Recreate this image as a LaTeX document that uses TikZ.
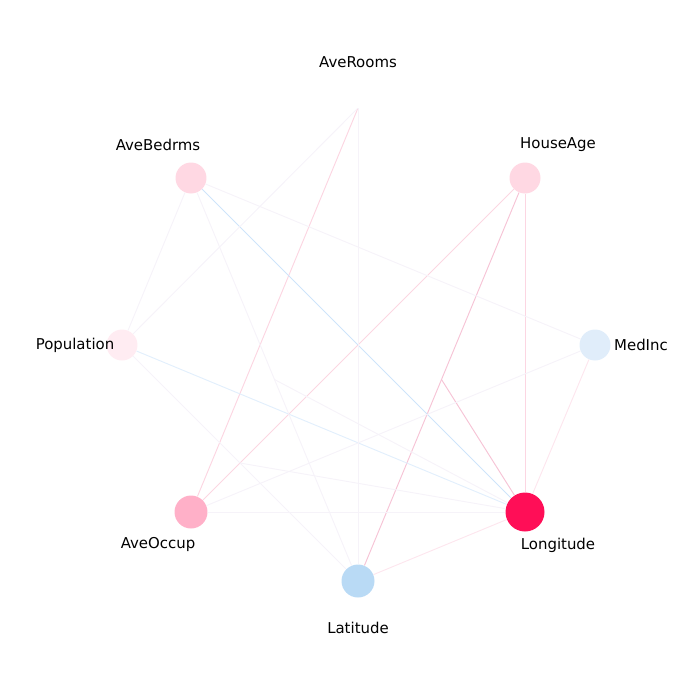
\documentclass[tikz,border=0pt]{standalone}
\usepackage{fontspec}
\setmainfont{DejaVu Sans}
\usepackage{tikz}
\usetikzlibrary{calc}

\definecolor{redFull}{RGB}{255,14,87}
\definecolor{redMid}{RGB}{255,176,200}
\definecolor{redLight}{RGB}{255,216,227}
\definecolor{redPale}{RGB}{255,236,242}
\definecolor{blueMid}{RGB}{185,218,245}
\definecolor{bluePale}{RGB}{224,237,250}
\definecolor{edgePink}{RGB}{246,196,214}
\definecolor{edgeRose}{RGB}{252,214,226}
\definecolor{edgeBlue}{RGB}{206,228,250}
\definecolor{edgeFaint}{RGB}{246,243,249}

\begin{document}
\begin{tikzpicture}[x=0.02cm, y=-0.02cm,
	feature/.style={circle, minimum size=0.62cm, inner sep=0pt},
	tag/.style={font=\fontsize{8.5}{10}\selectfont, text=black},
	link/.style={line width=0.55pt}]
	\useasboundingbox (0,0) rectangle (700,700);

	\node[feature, fill=bluePale] (medInc) at (595,345) {};
	\node[feature, fill=redLight] (houseAge) at (525,178) {};
	\node[inner sep=0pt, minimum size=0pt] (aveRooms) at (358,108) {};
	\node[feature, fill=redLight] (aveBedrms) at (191,178) {};
	\node[feature, fill=redPale] (population) at (122,345) {};
	\node[feature, fill=redMid, minimum size=0.66cm] (aveOccup) at (191,512) {};
	\node[feature, fill=blueMid, minimum size=0.66cm] (latitude) at (358,581) {};
	\node[feature, fill=redFull, minimum size=0.78cm] (longitude) at (525,512) {};

	\node[tag] (medIncLabel) at (641,345) {MedInc};
	\node[tag] (houseAgeLabel) at (558,145) {HouseAge};
	\node[tag] (aveRoomsLabel) at (358,62) {AveRooms};
	\node[tag] (aveBedrmsLabel) at (158,145) {AveBedrms};
	\node[tag] (populationLabel) at (75,345) {Population};
	\node[tag] (aveOccupLabel) at (158,545) {AveOccup};
	\node[tag] (latitudeLabel) at (358,628) {Latitude};
	\node[tag] (longitudeLabel) at (558,545) {Longitude};

	\coordinate (houseLat) at ($(houseAge)!0.5!(latitude)$);
	\coordinate (popLat) at ($(population)!0.5!(latitude)$);
	\coordinate (bedLat) at ($(aveBedrms)!0.5!(latitude)$);

	\draw[link, draw=edgePink] (houseAge) -- (latitude);
	\draw[link, draw=edgePink] (houseLat) -- (longitude);
	\draw[link, draw=edgeRose] (houseAge) -- (longitude);
	\draw[link, draw=edgeRose] (houseAge) -- (aveOccup);
	\draw[link, draw=edgeRose] (aveRooms) -- (aveOccup);
	\draw[link, draw=edgeBlue] (aveBedrms) -- (longitude);
	\draw[link, draw=edgeBlue!60!white] (population) -- (longitude);
	\draw[link, draw=edgeFaint] (aveRooms) -- (latitude);
	\draw[link, draw=edgeFaint] (aveRooms) -- (population);
	\draw[link, draw=edgeFaint] (aveBedrms) -- (population);
	\draw[link, draw=edgeFaint] (aveBedrms) -- (latitude);
	\draw[link, draw=edgeFaint] (aveBedrms) -- (medInc);
	\draw[link, draw=edgeFaint] (population) -- (latitude);
	\draw[link, draw=edgeFaint] (popLat) -- (longitude);
	\draw[link, draw=edgeFaint] (bedLat) -- (longitude);
	\draw[link, draw=edgeFaint] (medInc) -- (aveOccup);
	\draw[link, draw=edgeRose!60!white] (medInc) -- (longitude);
	\draw[link, draw=edgeFaint] (aveOccup) -- (longitude);
	\draw[link, draw=edgeRose!60!white] (latitude) -- (longitude);
\end{tikzpicture}
\end{document}
